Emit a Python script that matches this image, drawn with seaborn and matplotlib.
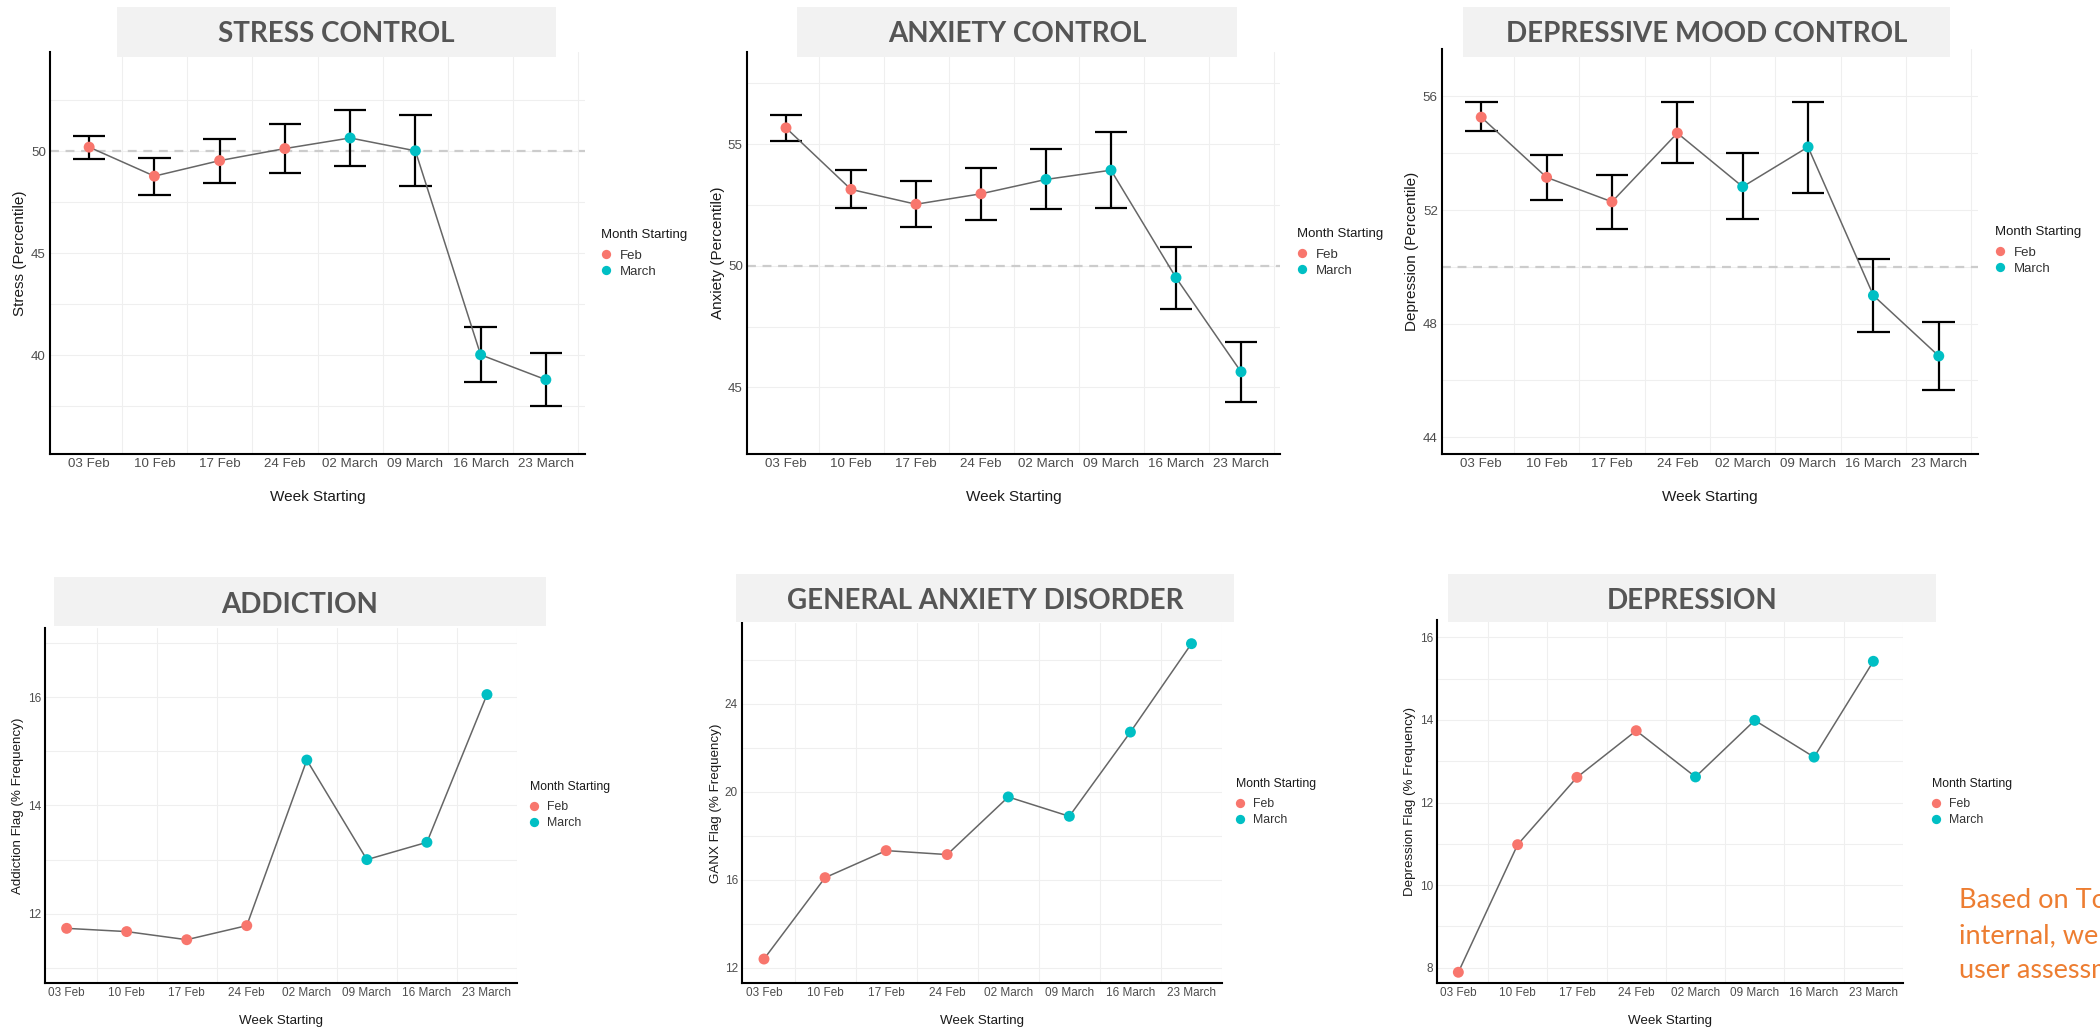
import numpy as np
import pandas as pd
import matplotlib
matplotlib.use("Agg")
import matplotlib.pyplot as plt
from matplotlib.patches import Rectangle
import seaborn as sns

# ---- data ----
weeks = ["03 Feb", "10 Feb", "17 Feb", "24 Feb", "02 March", "09 March", "16 March", "23 March"]
month = ["Feb", "Feb", "Feb", "Feb", "March", "March", "March", "March"]

stress = [50.2, 48.78, 49.54, 50.13, 50.65, 50.02, 40.03, 38.81]
stress_lo = [49.6, 47.86, 48.45, 48.92, 49.3, 48.3, 38.68, 37.54]
stress_hi = [50.77, 49.69, 50.62, 51.32, 52.0, 51.75, 41.39, 40.1]

anxiety = [55.67, 53.14, 52.53, 52.96, 53.55, 53.93, 49.51, 45.64]
anxiety_lo = [55.15, 52.36, 51.58, 51.89, 52.32, 52.36, 48.23, 44.4]
anxiety_hi = [56.18, 53.93, 53.48, 54.03, 54.81, 55.49, 50.77, 46.88]

depmood = [55.27, 53.15, 52.29, 54.71, 52.82, 54.22, 48.99, 46.86]
depmood_lo = [54.77, 52.36, 51.33, 53.64, 51.67, 52.61, 47.71, 45.68]
depmood_hi = [55.8, 53.95, 53.24, 55.79, 54.02, 55.82, 50.27, 48.06]

addiction = [11.73, 11.67, 11.52, 11.78, 14.84, 13.0, 13.32, 16.05]
ganx = [12.39, 16.09, 17.32, 17.14, 19.76, 18.88, 22.71, 26.73]
depflag = [7.89, 10.98, 12.61, 13.74, 12.62, 13.99, 13.1, 15.42]

note_lines = ["Based on To", "internal, we", "user assessm"]

W, H = 2100, 1031
palette = {"Feb": "#F8766D", "March": "#00BFC4"}

sns.set_theme(style="white")
plt.rcParams["font.family"] = ["Liberation Sans", "DejaVu Sans"]

fig = plt.figure(figsize=(W / 100, H / 100), dpi=100)
fig.patch.set_facecolor("white")


def frac_rect(x0, y0, x1, y1):
    return [x0 / W, 1 - y1 / H, (x1 - x0) / W, (y1 - y0) / H]


def panel(axbox, titlebox, title, base_y, ylabel, ylab_x, xlab_y, leg_xy,
          vals, ylim, yticks, yminor, lo=None, hi=None, top=True):
    ax = fig.add_axes(frac_rect(*axbox))
    axw = axbox[2] - axbox[0]
    axh = axbox[3] - axbox[1]
    pos = np.arange(len(weeks))
    df = pd.DataFrame({"pos": pos, "val": vals, "Month Starting": month})

    tick_fs = 9.6 if top else 8.5
    lab_fs = 11 if top else 9.6
    leg_fs = 9.5 if top else 8.8

    if lo is not None:
        ax.axhline(50, color="#CCCCCC", lw=1.6, ls=(0, (4, 3)), zorder=1.5)
        ax.vlines(pos, lo, hi, color="black", lw=1.6, zorder=2)
        ax.hlines(lo, pos - 0.25, pos + 0.25, color="black", lw=1.6, zorder=2)
        ax.hlines(hi, pos - 0.25, pos + 0.25, color="black", lw=1.6, zorder=2)

    sns.lineplot(data=df, x="pos", y="val", sort=False, color="#666666", lw=1.1,
                 ax=ax, zorder=2.5)
    sns.scatterplot(data=df, x="pos", y="val", hue="Month Starting", palette=palette,
                    s=62, linewidth=0, ax=ax, zorder=3)

    ax.set_xlim((-0.6, 7.6) if top else (-0.36, 7.36))
    ax.set_ylim(*ylim)
    ax.set_xticks(pos, weeks)
    ax.set_xticks(pos + 0.5, minor=True)
    ax.set_yticks(yticks)
    ax.set_yticks(yminor, minor=True)
    ax.grid(which="both", axis="y", color="#EFEFEF", lw=0.8)
    ax.grid(which="minor", axis="x", color="#EFEFEF", lw=0.8)
    ax.grid(which="major", axis="x", visible=False)
    ax.set_axisbelow(True)
    ax.tick_params(which="both", length=0)
    ax.tick_params(axis="x", labelsize=tick_fs, labelcolor="#4D4D4D", pad=3)
    ax.tick_params(axis="y", labelsize=tick_fs, labelcolor="#4D4D4D", pad=3)
    for s in ["top", "right"]:
        ax.spines[s].set_visible(False)
    for s in ["left", "bottom"]:
        ax.spines[s].set_color("black")
        ax.spines[s].set_linewidth(1.5)

    ax.set_xlabel("Week Starting", fontsize=lab_fs, color="#1A1A1A", va="center")
    ax.xaxis.set_label_coords(0.5, -(xlab_y - axbox[3]) / axh)
    ax.set_ylabel(ylabel, fontsize=lab_fs, color="#1A1A1A", va="center")
    ax.yaxis.set_label_coords((ylab_x - axbox[0]) / axw, 0.5)

    sns.move_legend(ax, "upper left", bbox_to_anchor=(leg_xy[0] / W, 1 - leg_xy[1] / H),
                    bbox_transform=fig.transFigure, frameon=False, title="Month Starting",
                    fontsize=leg_fs, title_fontsize=leg_fs, markerscale=0.85,
                    handlelength=0.7, handletextpad=0.7, borderpad=0, borderaxespad=0,
                    labelspacing=0.3, alignment="left")
    leg = ax.get_legend()
    leg._legend_box.sep = 6.0  # gap between legend title and entries
    leg.get_title().set_color("#1A1A1A")
    for t in leg.get_texts():
        t.set_color("#333333")

    bx0, by0, bx1, by1 = titlebox
    fig.add_artist(Rectangle((bx0 / W, 1 - by1 / H), (bx1 - bx0) / W, (by1 - by0) / H,
                             transform=fig.transFigure, facecolor="#F2F2F2",
                             edgecolor="none", zorder=5))
    fig.text((bx0 + bx1) / 2 / W, 1 - base_y / H, title, ha="center", va="baseline",
             family=["Lato", "DejaVu Sans"], fontweight="bold", fontsize=20,
             color="#555555", zorder=6)
    return ax


panel((50, 52, 585, 454), (117, 7, 556, 57), "STRESS CONTROL", 42,
      "Stress (Percentile)", 20, 497, (601, 229),
      stress, (35.17, 54.86), [40, 45, 50], [37.5, 42.5, 47.5, 52.5],
      stress_lo, stress_hi)
panel((747, 52, 1280, 454), (797, 7, 1237, 57), "ANXIETY CONTROL", 42,
      "Anxiety (Percentile)", 718, 497, (1297, 228),
      anxiety, (42.26, 58.79), [45, 50, 55], [47.5, 52.5, 57.5],
      anxiety_lo, anxiety_hi)
panel((1442, 49, 1978, 454), (1463, 7, 1950, 57), "DEPRESSIVE MOOD CONTROL", 42,
      "Depression (Percentile)", 1412, 497, (1995, 226),
      depmood, (43.41, 57.67), [44, 48, 52, 56], [46, 50, 54],
      depmood_lo, depmood_hi)
panel((45, 628, 517, 983), (54, 577, 546, 626), "ADDICTION", 613,
      "Addiction Flag (% Frequency)", 18, 1021, (530, 781),
      addiction, (10.72, 17.28), [12, 14, 16], [11, 13, 15, 17], top=False)
panel((742, 623, 1222, 983), (736, 574, 1234, 622), "GENERAL ANXIETY DISORDER", 609,
      "GANX Flag (% Frequency)", 716, 1021, (1236, 778),
      ganx, (11.3, 27.67), [12, 16, 20, 24], [14, 18, 22, 26], top=False)
panel((1437, 620, 1903, 983), (1448, 574, 1936, 622), "DEPRESSION", 609,
      "Depression Flag (% Frequency)", 1410, 1021, (1932, 778),
      depflag, (7.63, 16.42), [8, 10, 12, 14, 16], [9, 11, 13, 15], top=False)

# note at the lower right; the reference itself is cut off by the image edge
for i, line in enumerate(note_lines):
    fig.text(1959 / W, 1 - (908 + 35 * i) / H, line, ha="left", va="baseline",
             family=["Lato", "DejaVu Sans"], fontsize=19.5, color="#ED7D31")

fig.savefig("out.png", dpi=100)
